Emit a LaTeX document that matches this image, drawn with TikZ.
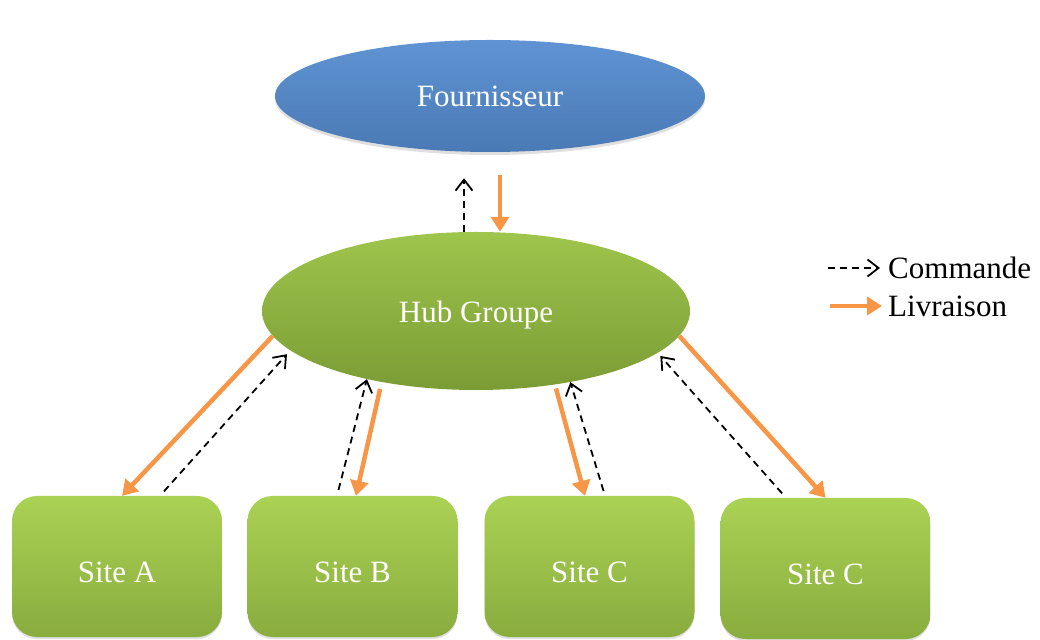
\documentclass[tikz,border=0pt]{standalone}
\usepackage{fontspec}
\setmainfont{Liberation Serif}
\usetikzlibrary{arrows.meta,shapes.geometric,shadows}

\definecolor{blueTop}{HTML}{5F93D3}
\definecolor{blueBot}{HTML}{4A7AB5}
\definecolor{hubTop}{HTML}{9EC54C}
\definecolor{hubBot}{HTML}{7B9C35}
\definecolor{siteTop}{HTML}{AAD254}
\definecolor{siteBot}{HTML}{89AC3E}
\definecolor{livrOrange}{HTML}{F79646}

\begin{document}
\begin{tikzpicture}[x=1pt, y=1pt, >=Latex, line cap=round, line join=round]

% ---------------- styles ----------------
\tikzset{
  cmd/.style={-{Straight Barb[length=11pt, width=17pt, line width=1.8pt]}, line width=1.8pt, dash pattern=on 7pt off 5pt, line cap=butt},
  livr/.style={-{Triangle[length=15pt, width=18pt]}, line width=4.5pt, draw=livrOrange, line cap=butt},
  oval/.style={ellipse, inner sep=0pt, text=white, font=\fontsize{31}{37}\selectfont},
  sitebox/.style={rectangle, rounded corners=25pt, minimum width=210pt, minimum height=141pt,
    top color=siteTop, bottom color=siteBot, text=white, text height=33pt,
    drop shadow={shadow xshift=0pt, shadow yshift=-2pt, opacity=0.25},
    font=\fontsize{31}{37}\selectfont},
  legtext/.style={anchor=west, inner sep=0pt, font=\fontsize{31}{37}\selectfont}
}

\useasboundingbox (0,0) rectangle (1040,639);

% ---------------- supplier and hub ----------------
\node[oval, minimum width=430pt, minimum height=112pt, top color=blueTop, bottom color=blueBot,
  drop shadow={shadow xshift=0pt, shadow yshift=-3pt, opacity=0.25}] (fourn) at (490,543) {Fournisseur};
\node[oval, minimum width=428pt, minimum height=158pt, top color=hubTop, bottom color=hubBot,
  text height=30pt] (hub) at (476,328) {Hub Groupe};

% ---------------- sites ----------------
\node[sitebox] (siteA) at (117,72.5) {Site A};
\node[sitebox] (siteB) at (352.5,72.5) {Site B};
\node[sitebox] (siteC) at (589.5,72.5) {Site C};
\node[sitebox] (siteD) at (825.5,70.5) {Site C};

% ---------------- flows hub <-> supplier ----------------
\draw[livr, shorten <=23pt] ([xshift=10pt]fourn.south) -- ([xshift=24pt]hub.north);
\draw[cmd, shorten >=26pt] ([xshift=-12pt]hub.north) -- ([xshift=-26pt]fourn.south);

% ---------------- flows hub <-> sites ----------------
\draw[livr] (hub.187) -- ([xshift=5pt]siteA.north);
\draw[cmd, shorten <=6pt, shorten >=5pt] ([xshift=43pt]siteA.north) -- (hub.192);

\draw[cmd, shorten <=6pt] ([xshift=-15.5pt]siteB.north) -- (hub.212);
\draw[livr, shorten <=7pt] (hub.217) -- ([xshift=3.5pt]siteB.north);

\draw[livr, shorten <=4pt] (hub.317.5) -- ([xshift=-4.5pt]siteC.north);
\draw[cmd, shorten <=5pt] ([xshift=15.5pt]siteC.north) -- (hub.323);

\draw[cmd, shorten <=6pt, shorten >=4pt] ([xshift=-39.5pt]siteD.north) -- (hub.347);
\draw[livr] (hub.353) -- (siteD.north);

% ---------------- legend ----------------
\node[legtext] (legCmd) at (888,371) {Commande};
\node[legtext] (legLivr) at (888,333) {Livraison};
\draw[cmd] ([xshift=-60pt]legCmd.west) -- ([xshift=-8pt]legCmd.west);
\draw[livr] ([xshift=-58pt]legLivr.west) -- ([xshift=-6pt]legLivr.west);

\end{tikzpicture}
\end{document}
